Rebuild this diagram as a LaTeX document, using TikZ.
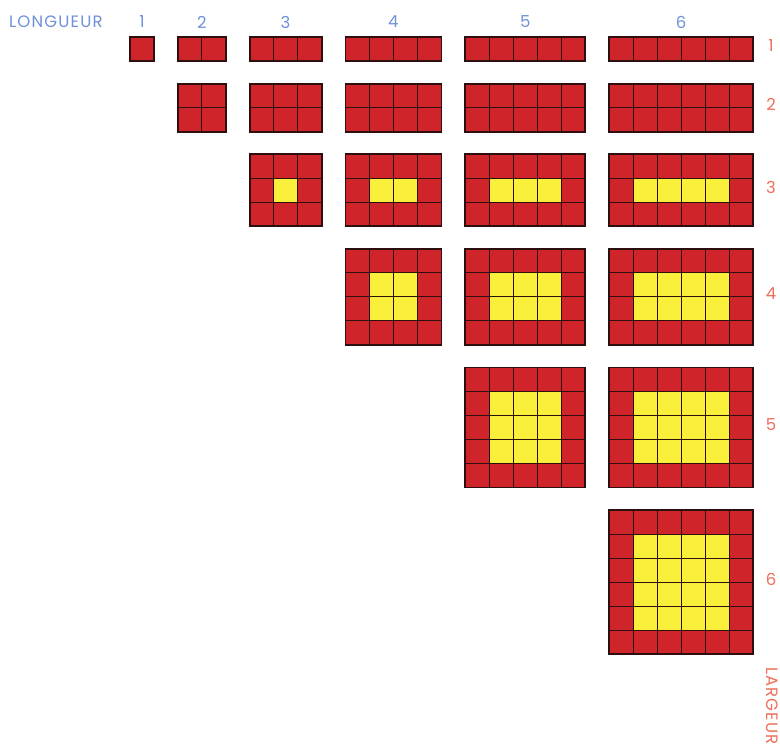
\documentclass[tikz,border=0pt]{standalone}
\usepackage{fontspec}
\setmainfont{Poppins}[LetterSpace=7]
\definecolor{cellred}{RGB}{206,36,42}
\definecolor{cellyel}{RGB}{250,240,60}
\definecolor{gridline}{RGB}{45,15,15}
\definecolor{lblue}{RGB}{110,145,218}
\definecolor{lred}{RGB}{238,110,90}
\tikzset{
  toplabel/.style={text=lblue,font=\fontsize{16.5}{16.5}\selectfont,inner sep=0pt,anchor=center},
  sidelabel/.style={text=lred,font=\fontsize{16.5}{16.5}\selectfont,inner sep=0pt,anchor=center},
  outer/.style={draw=gridline,line width=1.8pt},
  inner/.style={draw=gridline,line width=0.9pt}
}
\begin{document}
\begin{tikzpicture}[x=1pt,y=-1pt]
\useasboundingbox (0,0) rectangle (780,744);
\def\c{24}
% grids
\foreach \j in {1,...,6}{
  \foreach \i in {1,...,\j}{
    \pgfmathsetmacro{\xo}{130+\c*(\j-1)*\j/2+23.8*(\j-1)}
    \pgfmathsetmacro{\yo}{37+\c*(\i-1)*\i/2+22.6*(\i-1)}
    \pgfmathsetmacro{\xe}{\xo+\c*\j}
    \pgfmathsetmacro{\ye}{\yo+\c*\i}
    \fill[cellred] (\xo,\yo) rectangle (\xe,\ye);
    \ifnum\i>2
      \fill[cellyel] (\xo+\c,\yo+\c) rectangle (\xe-\c,\ye-\c);
    \fi
    \ifnum\j>1
      \foreach \k in {2,...,\j}{
        \draw[inner] ({\xo+\c*(\k-1)},\yo) -- ({\xo+\c*(\k-1)},\ye);
      }
    \fi
    \ifnum\i>1
      \foreach \k in {2,...,\i}{
        \draw[inner] (\xo,{\yo+\c*(\k-1)}) -- (\xe,{\yo+\c*(\k-1)});
      }
    \fi
    \draw[outer] (\xo,\yo) rectangle (\xe,\ye);
  }
}
% labels
\node[toplabel,anchor=west] (lon) at (9,22) {LONGUEUR};
\foreach \j in {1,...,6}{
  \pgfmathsetmacro{\xc}{130+\c*(\j-1)*\j/2+23.8*(\j-1)+\c*\j/2}
  \node[toplabel] (t\j) at (\xc,22) {\j};
  \pgfmathsetmacro{\yc}{37+\c*(\j-1)*\j/2+22.6*(\j-1)+\c*\j/2-3}
  \node[sidelabel] (s\j) at (771,\yc) {\j};
}
\node[sidelabel,rotate=-90,anchor=west] (lar) at (772,667) {LARGEUR};
\end{tikzpicture}
\end{document}
